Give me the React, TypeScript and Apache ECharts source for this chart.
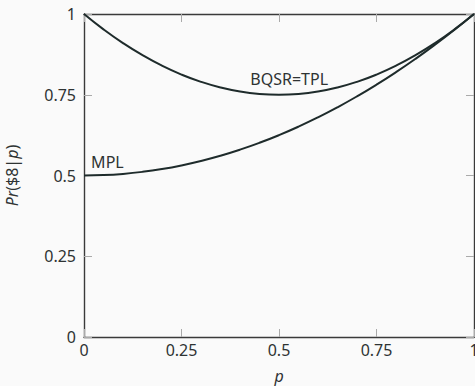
import React, { useEffect, useRef } from "react";
import * as echarts from "echarts";

const pValues = [0, 0.05, 0.1, 0.15, 0.2, 0.25, 0.3, 0.35, 0.4, 0.45, 0.5, 0.55, 0.6, 0.65, 0.7, 0.75, 0.8, 0.85, 0.9, 0.95, 1];
const bqsrValues = [1, 0.9525, 0.91, 0.8725, 0.84, 0.8125, 0.79, 0.7725, 0.76, 0.7525, 0.75, 0.7525, 0.76, 0.7725, 0.79, 0.8125, 0.84, 0.8725, 0.91, 0.9525, 1];
const mplValues = [0.5, 0.50125, 0.505, 0.51125, 0.52, 0.53125, 0.545, 0.56125, 0.58, 0.60125, 0.625, 0.65125, 0.68, 0.71125, 0.745, 0.78125, 0.82, 0.86125, 0.905, 0.95125, 1];
const seriesNames = ["BQSR=TPL", "MPL"];
const labelPositions = [[0.526, 0.80], [0.06, 0.542]];

const FONT = "Noto Sans";
const TEXT = "#2e3333";
const LINE = "#1e2b2b";

export default function App() {
  const ref = useRef<HTMLDivElement>(null);
  useEffect(() => {
    if (!ref.current) return;
    const chart = echarts.init(ref.current, undefined, { renderer: "svg" });
    const axisLine = { show: true, onZero: false, lineStyle: { color: "#3a3a3a", width: 1.4 } };
    const tick = { show: true, inside: true, length: 8, lineStyle: { color: "#aaa", width: 1 } };
    const mk = (name: string, vals: number[], pos: number[]) => ({
      type: "line",
      name,
      data: pValues.map((p, i) => [p, vals[i]]),
      smooth: true,
      showSymbol: false,
      symbol: "none",
      lineStyle: { color: LINE, width: 2 },
      markPoint: {
        symbol: "circle",
        symbolSize: 0,
        data: [{ coord: pos }],
        label: {
          show: true,
          formatter: name,
          position: "inside",
          color: TEXT,
          fontFamily: FONT,
          fontSize: 16,
        },
      },
    });
    chart.setOption({
      animation: false,
      backgroundColor: "#fafafa",
      grid: { left: 84, right: 1, top: 14, bottom: 49, containLabel: false, outerBoundsMode: "none" },
      xAxis: [
        {
          type: "value",
          min: 0,
          max: 1,
          interval: 0.25,
          axisLine,
          axisTick: tick,
          splitLine: { show: false },
          axisLabel: { color: TEXT, fontFamily: FONT, fontSize: 16, margin: 5 },
          name: "p",
          nameLocation: "middle",
          nameGap: 31,
          nameTextStyle: { color: TEXT, fontFamily: FONT, fontSize: 16, fontStyle: "italic" },
        },
        {
          type: "value",
          position: "top",
          min: 0,
          max: 1,
          interval: 0.25,
          axisLine,
          axisTick: tick,
          splitLine: { show: false },
          axisLabel: { show: false },
        },
      ],
      yAxis: [
        {
          type: "value",
          min: 0,
          max: 1,
          interval: 0.25,
          axisLine,
          axisTick: tick,
          splitLine: { show: false },
          axisLabel: { color: TEXT, fontFamily: FONT, fontSize: 16, margin: 8 },
          name: "{i|Pr}{n|($8|}{i|p}{n|)}",
          nameLocation: "middle",
          nameGap: 64,
          nameTextStyle: {
            color: TEXT,
            fontFamily: FONT,
            fontSize: 16,
            rich: {
              i: { fontStyle: "italic", fontFamily: FONT, fontSize: 16, color: TEXT },
              n: { fontFamily: FONT, fontSize: 16, color: TEXT },
            },
          },
        },
        {
          type: "value",
          position: "right",
          min: 0,
          max: 1,
          interval: 0.25,
          axisLine,
          axisTick: tick,
          splitLine: { show: false },
          axisLabel: { show: false },
        },
      ],
      series: [
        mk(seriesNames[0], bqsrValues, labelPositions[0]),
        mk(seriesNames[1], mplValues, labelPositions[1]),
      ],
    });
    return () => chart.dispose();
  }, []);
  return (
    <div
      ref={ref}
      style={{ position: "fixed", left: 0, top: 0, width: 475, height: 386 }}
    />
  );
}
